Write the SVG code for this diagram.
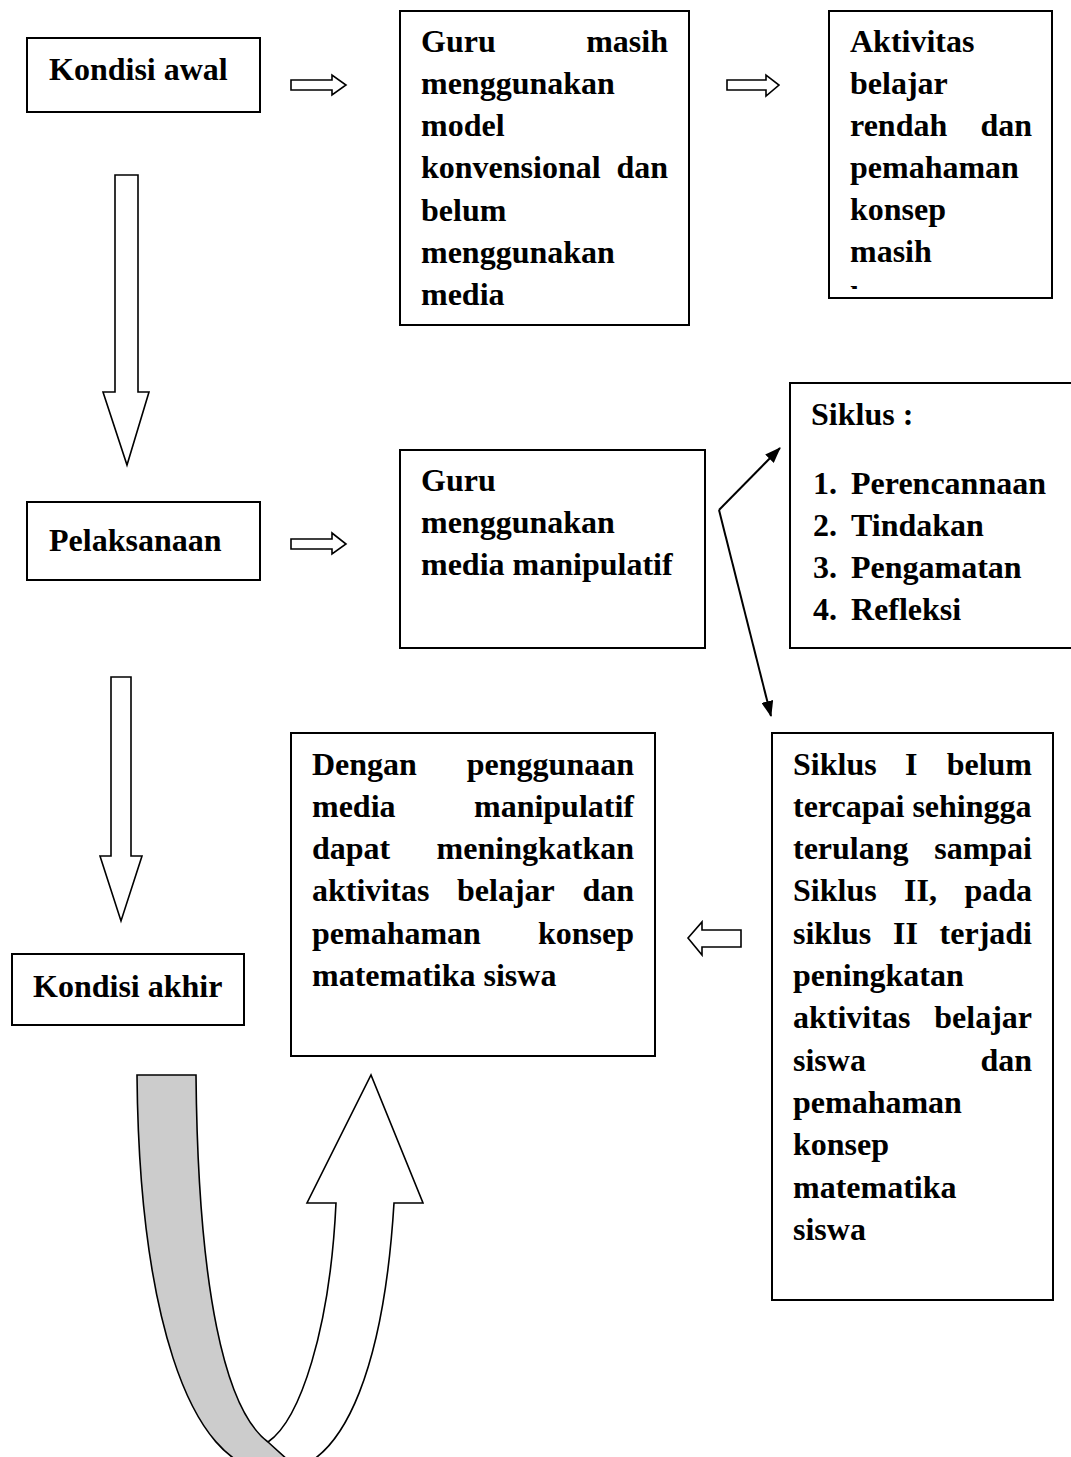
<svg xmlns="http://www.w3.org/2000/svg" width="1071" height="1457" viewBox="0 0 1071 1457">
  <style>
    .box { fill: #ffffff; stroke: #000000; stroke-width: 2; }
    .blk { fill: #ffffff; stroke: #000000; stroke-width: 1.6; stroke-linejoin: miter; }
    .t { font-family: "Liberation Serif", "Times New Roman", serif; font-weight: bold; font-size: 32px; fill: #000000; }
    .r { text-anchor: end; }
    .line { fill: none; stroke: #000000; stroke-width: 2; }
  </style>
  <defs>
    <marker id="head" viewBox="0 0 16 12" refX="15" refY="6" markerWidth="16" markerHeight="12" markerUnits="userSpaceOnUse" orient="auto">
      <path d="M0,0 L16,6 L0,12 Z" fill="#000000"/>
    </marker>
    <clipPath id="clip-aktivitas">
      <rect x="828" y="11" width="224" height="278"/>
    </clipPath>
  </defs>
  <rect width="1071" height="1457" fill="#ffffff"/>

  <!-- Row 1 -->
  <g id="kondisi-awal">
    <rect class="box" x="27" y="38" width="233" height="74"/>
    <text class="t" x="49" y="80">Kondisi awal</text>
  </g>

  <g id="guru-konvensional">
    <rect class="box" x="400" y="11" width="289" height="314"/>
    <text class="t" x="421" y="52">Guru</text>
    <text class="t r" x="668" y="52">masih</text>
    <text class="t" x="421" y="94">menggunakan</text>
    <text class="t" x="421" y="136">model</text>
    <text class="t" x="421" y="178">konvensional</text>
    <text class="t r" x="668" y="178">dan</text>
    <text class="t" x="421" y="221">belum</text>
    <text class="t" x="421" y="263">menggunakan</text>
    <text class="t" x="421" y="305">media</text>
  </g>

  <g id="aktivitas-rendah">
    <rect class="box" x="829" y="11" width="223" height="287"/>
    <g clip-path="url(#clip-aktivitas)">
      <text class="t" x="850" y="52">Aktivitas</text>
      <text class="t" x="850" y="94">belajar</text>
      <text class="t" x="850" y="136">rendah</text>
      <text class="t r" x="1032" y="136">dan</text>
      <text class="t" x="850" y="178">pemahaman</text>
      <text class="t" x="850" y="220">konsep</text>
      <text class="t" x="850" y="262">masih</text>
      <text class="t" x="850" y="308">kurang</text>
    </g>
  </g>

  <!-- Row 2 -->
  <g id="pelaksanaan">
    <rect class="box" x="27" y="502" width="233" height="78"/>
    <text class="t" x="49" y="551">Pelaksanaan</text>
  </g>

  <g id="guru-manipulatif">
    <rect class="box" x="400" y="450" width="305" height="198"/>
    <text class="t" x="421" y="491">Guru</text>
    <text class="t" x="421" y="533">menggunakan</text>
    <text class="t" x="421" y="575">media manipulatif</text>
  </g>

  <g id="siklus">
    <rect class="box" x="790" y="383" width="300" height="265"/>
    <text class="t" x="811" y="425">Siklus :</text>
    <text class="t" x="813" y="494">1.</text>
    <text class="t" x="851" y="494">Perencannaan</text>
    <text class="t" x="813" y="536">2.</text>
    <text class="t" x="851" y="536">Tindakan</text>
    <text class="t" x="813" y="578">3.</text>
    <text class="t" x="851" y="578">Pengamatan</text>
    <text class="t" x="813" y="620">4.</text>
    <text class="t" x="851" y="620">Refleksi</text>
  </g>

  <!-- Row 3 -->
  <g id="hasil-manipulatif">
    <rect class="box" x="291" y="733" width="364" height="323"/>
    <text class="t" x="312" y="775">Dengan</text>
    <text class="t r" x="634" y="775">penggunaan</text>
    <text class="t" x="312" y="817">media</text>
    <text class="t r" x="634" y="817">manipulatif</text>
    <text class="t" x="312" y="859">dapat</text>
    <text class="t r" x="634" y="859">meningkatkan</text>
    <text class="t" x="312" y="901">aktivitas</text>
    <text class="t" x="457" y="901">belajar</text>
    <text class="t r" x="634" y="901">dan</text>
    <text class="t" x="312" y="944">pemahaman</text>
    <text class="t r" x="634" y="944">konsep</text>
    <text class="t" x="312" y="986">matematika siswa</text>
  </g>

  <g id="siklus-hasil">
    <rect class="box" x="772" y="733" width="281" height="567"/>
    <text class="t" x="793" y="775">Siklus</text>
    <text class="t" x="905" y="775">I</text>
    <text class="t r" x="1032" y="775">belum</text>
    <text class="t" x="793" y="817">tercapai sehingga</text>
    <text class="t" x="793" y="859">terulang</text>
    <text class="t r" x="1032" y="859">sampai</text>
    <text class="t" x="793" y="901">Siklus</text>
    <text class="t" x="904" y="901">II,</text>
    <text class="t r" x="1032" y="901">pada</text>
    <text class="t" x="793" y="944">siklus</text>
    <text class="t" x="893" y="944">II</text>
    <text class="t r" x="1032" y="944">terjadi</text>
    <text class="t" x="793" y="986">peningkatan</text>
    <text class="t" x="793" y="1028">aktivitas</text>
    <text class="t r" x="1032" y="1028">belajar</text>
    <text class="t" x="793" y="1071">siswa</text>
    <text class="t r" x="1032" y="1071">dan</text>
    <text class="t" x="793" y="1113">pemahaman</text>
    <text class="t" x="793" y="1155">konsep</text>
    <text class="t" x="793" y="1198">matematika</text>
    <text class="t" x="793" y="1240">siswa</text>
  </g>

  <g id="kondisi-akhir">
    <rect class="box" x="12" y="954" width="232" height="71"/>
    <text class="t" x="33" y="997">Kondisi akhir</text>
  </g>

  <!-- Connectors -->
  <g id="connectors">
    <!-- block arrows -->
    <path class="blk" d="M291,80 L332,80 L332,75 L346,85 L332,95 L332,90 L291,90 Z"/>
    <path class="blk" d="M727,80 L766,80 L766,75 L779,85 L766,96 L766,90 L727,90 Z"/>
    <path class="blk" d="M291,539 L332,539 L332,533 L346,544 L332,554 L332,549 L291,549 Z"/>
    <path class="blk" d="M115,175 L138,175 L138,392 L149,392 L127,465 L103,392 L115,392 Z"/>
    <path class="blk" d="M111,677 L131,677 L131,856 L142,856 L121,921 L100,856 L111,856 Z"/>
    <path class="blk" d="M741,930 L702,930 L702,922 L688,938 L702,955 L702,947 L741,947 Z"/>

    <!-- thin arrows from the media box to the cycle -->
    <line class="line" x1="719" y1="510" x2="780" y2="448" marker-end="url(#head)"/>
    <line class="line" x1="719" y1="510" x2="771" y2="716" marker-end="url(#head)"/>

    <!-- U-turn arrow: white rising part, then shaded back part -->
    <path class="blk" d="M336,1203 C330,1330 300,1420 268,1442 L275,1472 C350,1472 385,1350 394,1203 L423,1203 L371,1075 L307,1203 Z"/>
    <path class="blk" style="fill:#cccccc" d="M137,1075 C139,1300 185,1472 275,1472 L300,1471 L268,1442 C225,1410 198,1290 196,1075 Z"/>
  </g>
</svg>
